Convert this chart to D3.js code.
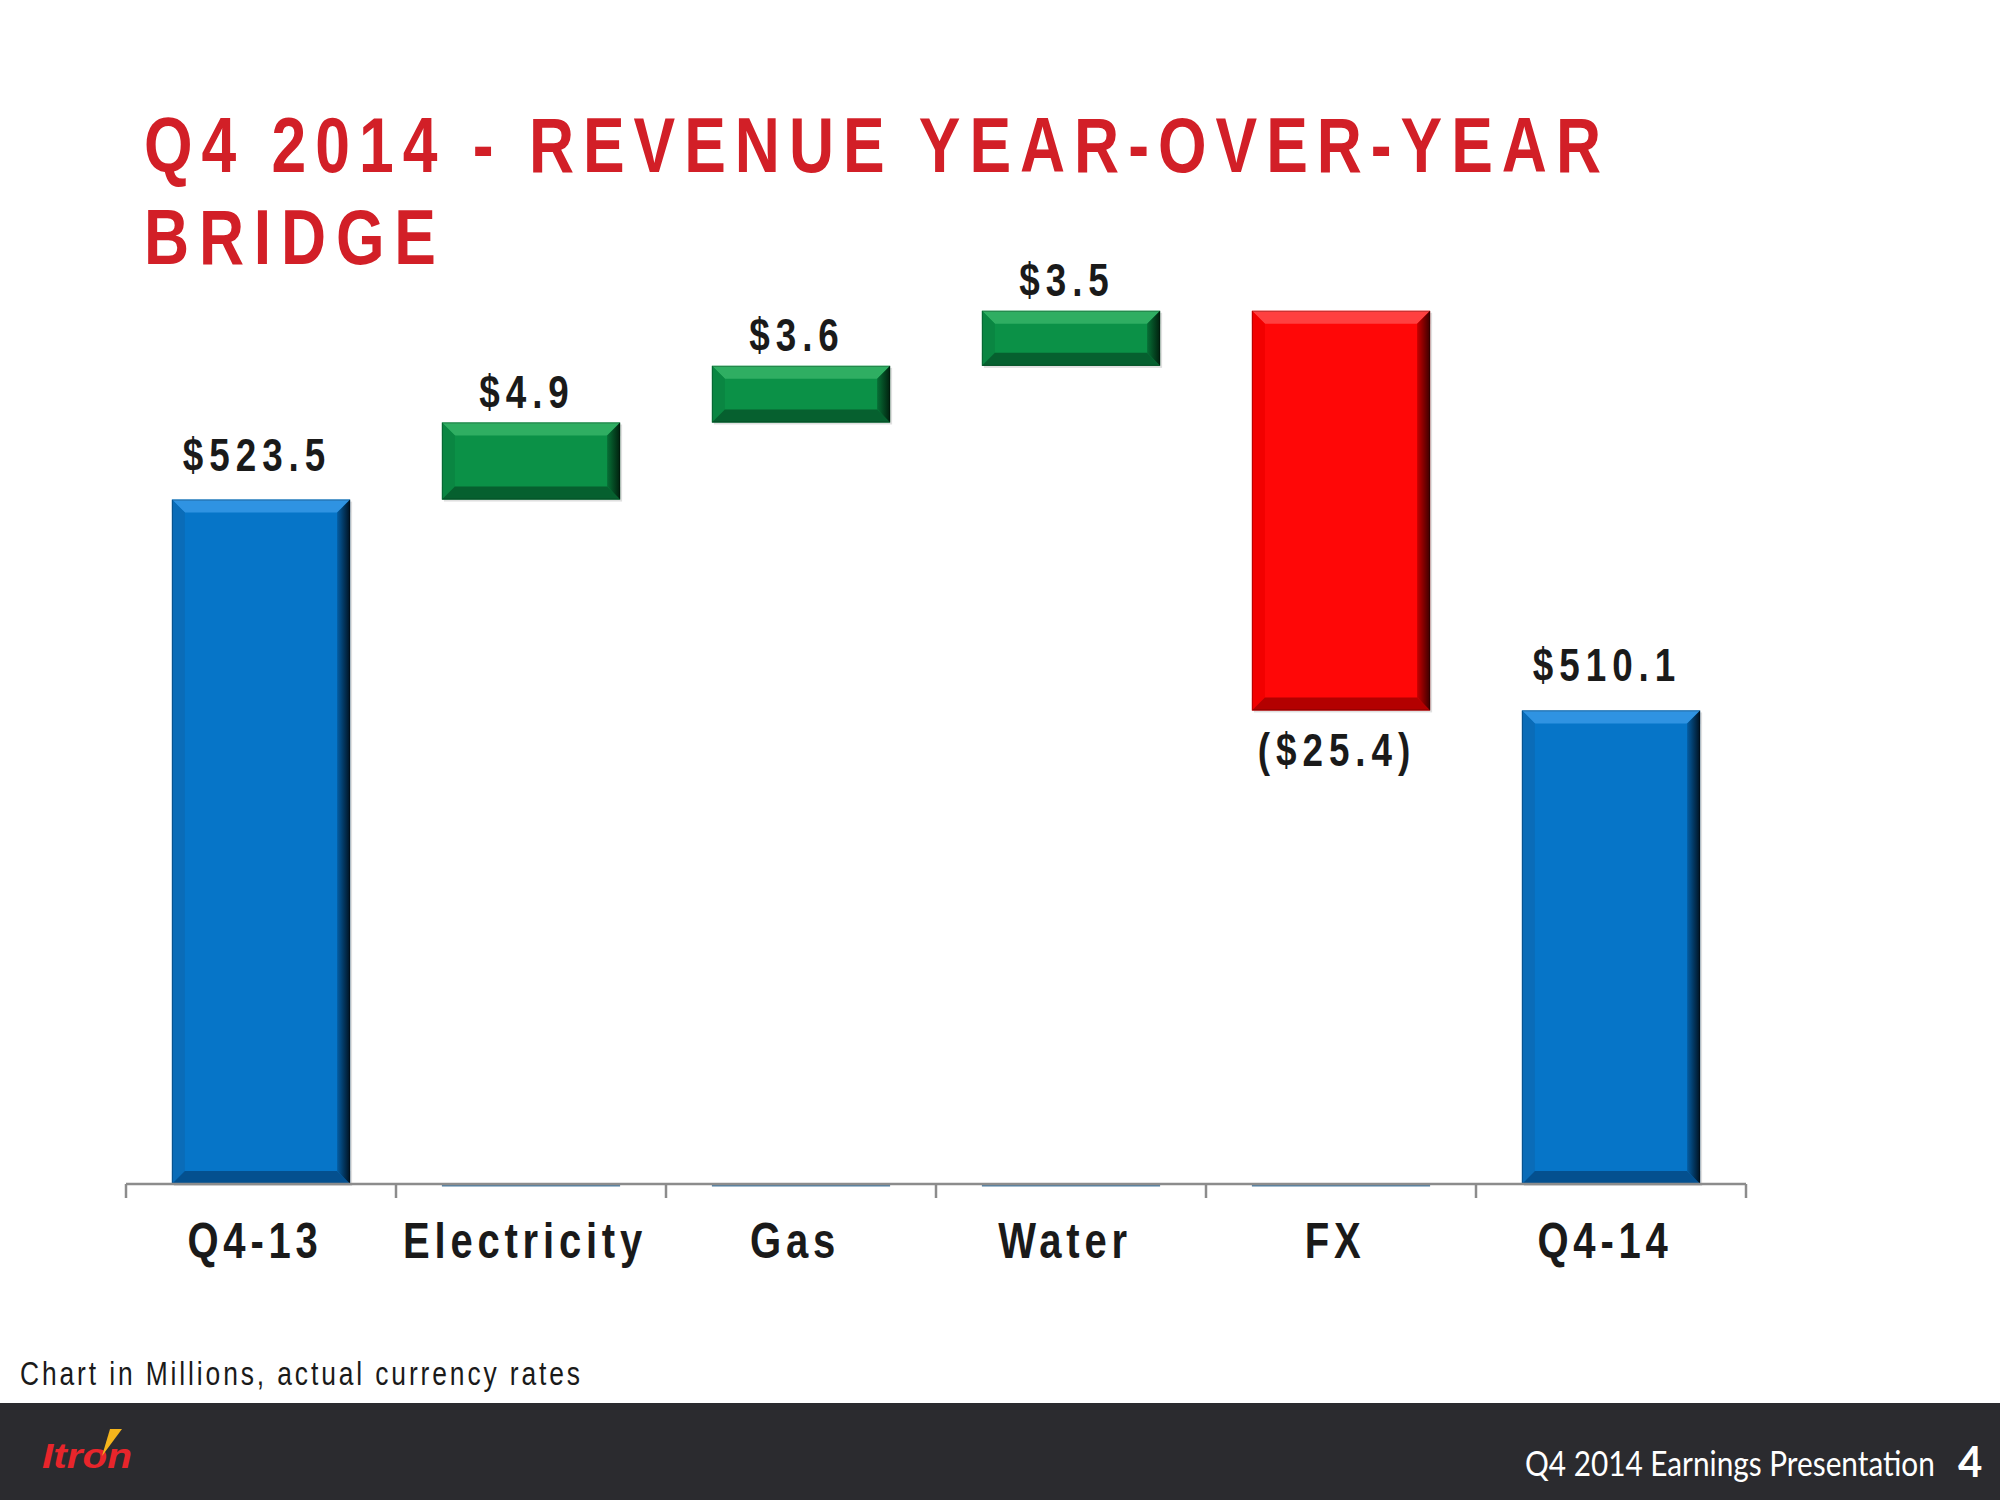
<!DOCTYPE html>
<html>
<head>
<meta charset="utf-8">
<script src="https://cdn.jsdelivr.net/npm/d3@7/dist/d3.min.js"></script>
<style>
  html, body { margin: 0; padding: 0; background: #ffffff; }
  svg { display: block; }
</style>
</head>
<body>
<svg id="chart" width="2000" height="1500"></svg>
<script>
// ---- data ----
const categories = ["Q4-13", "Electricity", "Gas", "Water", "FX", "Q4-14"];
const values = [523.5, 4.9, 3.6, 3.5, -25.4, 510.1];
const kinds = ["total", "delta", "delta", "delta", "delta", "total"];
const valueLabels = ["$523.5", "$4.9", "$3.6", "$3.5", "($25.4)", "$510.1"];
const yDomain = [480, 540];
const titleLines = ["Q4 2014 - REVENUE YEAR-OVER-YEAR", "BRIDGE"];
const footnote = "Chart in Millions, actual currency rates";
const footerText = "Q4 2014 Earnings Presentation";
const pageNumber = "4";

// ---- build waterfall rows ----
let running = 0;
const rows = categories.map((c, i) => {
  let start, end;
  if (kinds[i] === "total") { start = yDomain[0]; end = values[i]; running = values[i]; }
  else { start = running; end = running + values[i]; running = end; }
  return { cat: c, value: values[i], kind: kinds[i], label: valueLabels[i],
           lo: Math.min(start, end), hi: Math.max(start, end) };
});

const svg = d3.select("#chart");
const SANS = "'Liberation Sans', Arial, sans-serif";

// narrow + letter-spaced text: scaled horizontally, spacing fitted so total width = target
function narrowText(parent, x, y, str, opts) {
  const sx = opts.sx || 0.8;
  const anchor = opts.anchor || "start";
  const g = parent.append("g").attr("transform", `translate(${x},${y}) scale(${sx},1)`);
  const t = g.append("text").attr("x", 0).attr("y", 0)
    .attr("font-family", SANS)
    .attr("font-weight", opts.weight || "bold")
    .attr("font-size", opts.size)
    .attr("fill", opts.fill || "#1a1a1a")
    .attr("text-anchor", "start")
    .text(str);
  const w = t.node().getComputedTextLength();
  const n = str.length;
  let ls = 0;
  if (opts.width && n > 1) ls = (opts.width / sx - w) / (n - 1);
  else if (opts.ls !== undefined) ls = opts.ls;
  t.attr("letter-spacing", ls);
  const total = w + ls * n; // include trailing spacing like the slide software
  if (anchor === "middle") t.attr("x", -total / 2);
  if (anchor === "end") t.attr("x", -total);
  return t;
}

// ---- defs ----
const defs = svg.append("defs");
const palettes = {
  total: { base: "#0675c8", top: "#2f93e2", left: "#0a6cb8", bottom: "#04508f", r1: "#045da3", r2: "#00111f" },
  up:    { base: "#0b9147", top: "#2fae62", left: "#0a8642", bottom: "#06602f", r1: "#077036", r2: "#01200e" },
  down:  { base: "#ff0707", top: "#ff4040", left: "#f20000", bottom: "#b30000", r1: "#c80000", r2: "#3a0000" }
};
Object.entries(palettes).forEach(([k, p]) => {
  const g = defs.append("linearGradient").attr("id", "rg-" + k)
    .attr("x1", "0").attr("x2", "1").attr("y1", "0").attr("y2", "0");
  g.append("stop").attr("offset", "0").attr("stop-color", p.r1);
  g.append("stop").attr("offset", "1").attr("stop-color", p.r2);
});

// ---- scales ----
const x = d3.scaleBand().domain(categories).range([126, 1746])
  .paddingInner(0.34).paddingOuter(0.17);
const y = d3.scaleLinear().domain(yDomain).range([1184, 240]);

// ---- title ----
const titleG = svg.append("g");
narrowText(titleG, 144, 172, titleLines[0], { size: 78, sx: 0.8, width: 1457, fill: "#d21f27" });
narrowText(titleG, 144, 264, titleLines[1], { size: 78, sx: 0.8, width: 292, fill: "#d21f27" });

// ---- invisible base lines for delta bars ----
svg.append("g").selectAll("line")
  .data(rows.filter(d => d.kind === "delta"))
  .join("line")
  .attr("x1", d => x(d.cat)).attr("x2", d => x(d.cat) + x.bandwidth())
  .attr("y1", y(yDomain[0]) + 1.5).attr("y2", y(yDomain[0]) + 1.5)
  .attr("stroke", "#4f7fa3").attr("stroke-width", 2);

// ---- bars with bevel ----
const bars = svg.append("g");
rows.forEach(d => {
  const pk = d.kind === "total" ? "total" : (d.value >= 0 ? "up" : "down");
  const p = palettes[pk];
  const x0 = x(d.cat), x1 = x0 + x.bandwidth();
  const y0 = y(d.hi), y1 = y(d.lo);
  const b = 13;
  const g = bars.append("g");
  g.append("rect").attr("x", x0 + 2).attr("y", y0 + 2).attr("width", x1 - x0).attr("height", y1 - y0)
    .attr("fill", "#000").attr("opacity", 0.12);
  g.append("rect").attr("x", x0).attr("y", y0).attr("width", x1 - x0).attr("height", y1 - y0)
    .attr("fill", p.base);
  const poly = pts => pts.map(q => q.join(",")).join(" ");
  g.append("polygon").attr("points", poly([[x0, y0], [x1, y0], [x1 - b, y0 + b], [x0 + b, y0 + b]]))
    .attr("fill", p.top);
  g.append("polygon").attr("points", poly([[x0, y0], [x0 + b, y0 + b], [x0 + b, y1 - b], [x0, y1]]))
    .attr("fill", p.left);
  g.append("polygon").attr("points", poly([[x0, y1], [x0 + b, y1 - b], [x1 - b, y1 - b], [x1, y1]]))
    .attr("fill", p.bottom);
  g.append("polygon").attr("points", poly([[x1, y0], [x1, y1], [x1 - b, y1 - b], [x1 - b, y0 + b]]))
    .attr("fill", "url(#rg-" + pk + ")");
  g.append("rect").attr("x", x0 + 0.5).attr("y", y0 + 0.5).attr("width", x1 - x0 - 1).attr("height", y1 - y0 - 1)
    .attr("fill", "none").attr("stroke", "#000").attr("stroke-opacity", 0.25).attr("stroke-width", 1);
});

// ---- value labels ----
const valG = svg.append("g");
rows.forEach(d => {
  const cx = x(d.cat) + x.bandwidth() / 2 - 4;
  let ly;
  if (d.kind === "total") ly = y(d.hi) - 29;
  else if (d.value >= 0) ly = y(d.hi) - 15;
  else ly = y(d.lo) + 56;
  narrowText(valG, cx, ly, d.label, { size: 46, sx: 0.8, ls: 7.5, anchor: "middle", fill: "#1a1a1a" });
});

// ---- axis ----
const axisG = svg.append("g").attr("transform", `translate(0,${y(yDomain[0])})`);
const step = x.step();
const bounds = [x(categories[0]) - step * x.paddingInner() / 2]
  .concat(categories.map(c => x(c) + x.bandwidth() + step * x.paddingInner() / 2));
axisG.append("line").attr("x1", bounds[0]).attr("x2", bounds[bounds.length - 1])
  .attr("y1", 0).attr("y2", 0).attr("stroke", "#8c8c8c").attr("stroke-width", 2.5);
axisG.selectAll("line.tk").data(bounds).join("line").attr("class", "tk")
  .attr("x1", d => d).attr("x2", d => d).attr("y1", 0).attr("y2", 14)
  .attr("stroke", "#8c8c8c").attr("stroke-width", 2.5);

// category labels placed through a D3 axis, then narrowed
const axis = d3.axisBottom(x).tickSize(0).tickPadding(0);
const labelsG = svg.append("g").attr("transform", `translate(0,${y(yDomain[0])})`).call(axis);
labelsG.select(".domain").remove();
labelsG.selectAll(".tick").each(function (c) {
  const tick = d3.select(this);
  tick.select("text").remove();
  narrowText(tick, -6, 74, c, { size: 50, sx: 0.8, ls: 6, anchor: "middle", fill: "#1a1a1a" });
});

// ---- footnote ----
narrowText(svg, 20, 1385, footnote, { size: 33, sx: 0.8, weight: "normal", width: 560, fill: "#1a1a1a" });

// ---- footer ----
svg.append("rect").attr("x", 0).attr("y", 1403).attr("width", 2000).attr("height", 97).attr("fill", "#2b2b2f");
(function () {
  const g = svg.append("g");
  const t = g.append("text").attr("x", 0).attr("y", 0)
    .attr("font-family", "Lato, 'Open Sans', sans-serif").attr("font-size", 34).attr("fill", "#ffffff")
    .text(footerText);
  const w = t.node().getComputedTextLength();
  g.attr("transform", `translate(1525,1476) scale(${410 / w},1)`);
})();
svg.append("text").attr("x", 1958).attr("y", 1477)
  .attr("font-family", "Lato, 'Open Sans', sans-serif").attr("font-weight", "bold")
  .attr("font-size", 42).attr("fill", "#ffffff")
  .text(pageNumber);

// ---- logo ----
const logo = svg.append("g");
(function () {
  const g = logo.append("g");
  const t = g.append("text").attr("x", 0).attr("y", 0)
    .attr("font-family", SANS).attr("font-weight", "bold")
    .attr("font-style", "italic").attr("font-size", 36).attr("fill", "#e8252b")
    .text("Itron");
  const w = t.node().getComputedTextLength();
  g.attr("transform", `translate(42,1468) scale(${90 / w},1)`);
})();
logo.append("polygon").attr("points", "110,1429 122,1429 102,1456").attr("fill", "#f5b51c");
</script>
</body>
</html>
